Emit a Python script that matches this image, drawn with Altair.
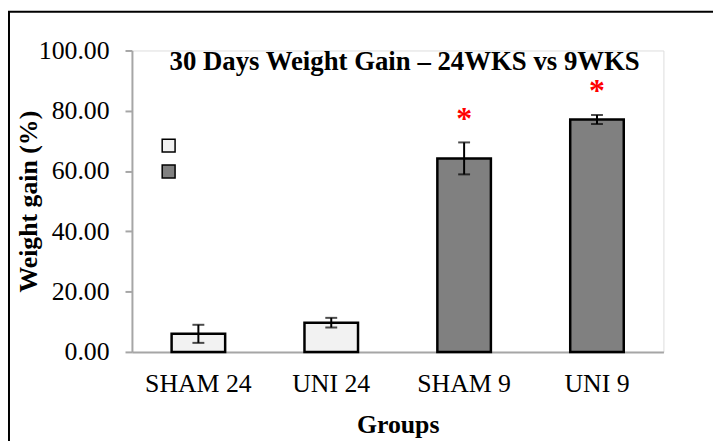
import altair as alt
import pandas as pd

groups = ["SHAM 24", "UNI 24", "SHAM 9", "UNI 9"]
series = ["24WKS", "24WKS", "9WKS", "9WKS"]
means = [6.0, 9.7, 64.2, 77.1]
errors = [3.0, 1.6, 5.3, 1.5]
stars = ["", "", "*", "*"]

series_names = ["24WKS", "9WKS"]
series_colors = ["#F2F2F2", "#808080"]

df = pd.DataFrame({"group": groups, "series": series, "mean": means, "err": errors, "star": stars})
df["lower"] = df["mean"] - df["err"]
df["upper"] = df["mean"] + df["err"]

FONT = "Liberation Serif"
W, H = 536, 304

x = alt.X("group:N", sort=groups, title="Groups",
          scale=alt.Scale(paddingInner=0, paddingOuter=0),
          axis=alt.Axis(labelAngle=0, ticks=False, tickSize=0, labelFont=FONT, labelFontSize=26,
                        labelColor="black", labelBaseline="alphabetic", labelPadding=40,
                        titleFont=FONT, titleFontSize=26, titleFontWeight="bold", titleColor="black",
                        titleBaseline="alphabetic", titleY=81, domainColor="#A6A6A6", domainWidth=2))

y_axis = alt.Axis(format=".2f", values=[0, 20, 40, 60, 80, 100], grid=False,
                  labelFont=FONT, labelFontSize=26, labelColor="black", labelPadding=16,
                  tickSize=7, tickColor="#A6A6A6", tickWidth=2, domainColor="#A6A6A6", domainWidth=2,
                  title="Weight gain (%)", titleFont=FONT, titleFontSize=26, titleFontWeight="bold",
                  titleColor="black", titleAngle=-90, titleX=-104, titleY=152,
                  titleAlign="center", titleBaseline="middle")

base = alt.Chart(df)

bars = base.mark_bar(stroke="black", strokeWidth=2.5, width=alt.RelativeBandSize(54 / 134)).encode(
    x=x,
    y=alt.Y("mean:Q", scale=alt.Scale(domain=[0, 100], nice=False), axis=y_axis),
    color=alt.Color("series:N", scale=alt.Scale(domain=series_names, range=series_colors),
                    legend=alt.Legend(orient="none", legendX=27, legendY=86, title=None,
                                      symbolType="square", symbolSize=169, symbolStrokeColor="black",
                                      symbolStrokeWidth=1.5, labelExpr="''", labelFontSize=20,
                                      rowPadding=6, padding=0)),
)

rules = base.mark_rule(color="black", strokeWidth=2).encode(
    x=alt.X("group:N", sort=groups), y="lower:Q", y2="upper:Q")
caps_lo = base.mark_tick(color="black", thickness=2, size=12).encode(
    x=alt.X("group:N", sort=groups), y="lower:Q")
caps_hi = base.mark_tick(color="black", thickness=2, size=12).encode(
    x=alt.X("group:N", sort=groups), y="upper:Q")

star_marks = base.mark_text(color="red", font=FONT, fontSize=32, fontWeight="bold",
                            baseline="alphabetic", dy=-14).encode(
    x=alt.X("group:N", sort=groups), y="upper:Q", text="star:N")

title_df = pd.DataFrame({"t": ["30 Days Weight Gain \u2013 24WKS vs 9WKS"]})
title = alt.Chart(title_df).mark_text(font=FONT, fontSize=27, fontWeight="bold", color="black",
                                      align="center", baseline="alphabetic").encode(
    x=alt.value(275), y=alt.value(20), text="t:N")

border_df = pd.DataFrame({"b": [1]})
border = alt.Chart(border_df).mark_rect(fill=None, fillOpacity=0, stroke="black", strokeWidth=2).encode(
    x=alt.value(-124), x2=alt.value(700), y=alt.value(-39), y2=alt.value(500))

chart = alt.layer(border, bars, rules, caps_lo, caps_hi, star_marks, title).properties(
    width=W, height=H,
    autosize=alt.AutoSizeParams(type="none"),
    padding={"left": 125, "top": 41, "right": 50, "bottom": 88},
).configure_view(stroke=None).configure(background="white")

chart.save("out.html", embed_options={"renderer": "svg", "actions": False})
